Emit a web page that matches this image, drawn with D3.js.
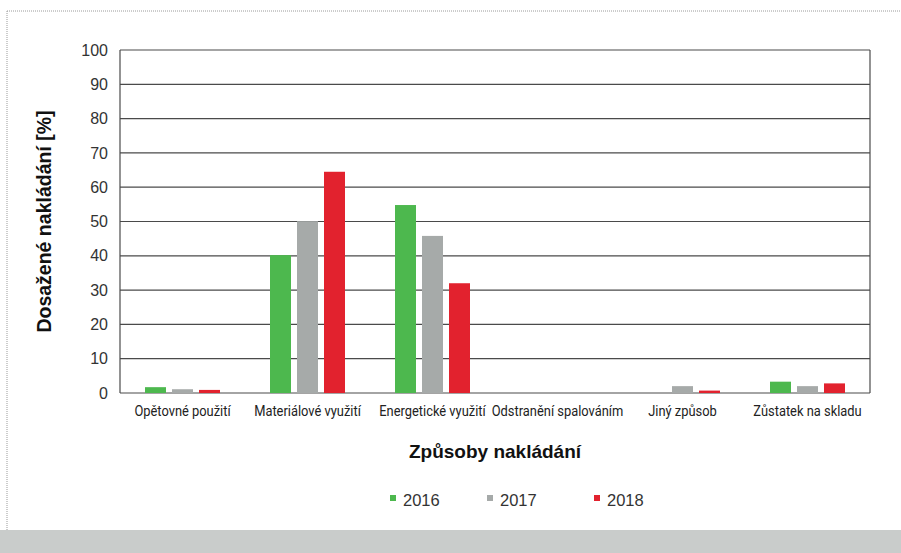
<!DOCTYPE html>
<html>
<head>
<meta charset="utf-8">
<script src="https://cdn.jsdelivr.net/npm/d3@7"></script>
<style>
  body { margin: 0; background: #fff; }
  svg { display: block; }
</style>
</head>
<body>
<div id="chart"></div>
<script>
var categories = ["Opětovné použití", "Materiálové využití", "Energetické využití", "Odstranění spalováním", "Jiný způsob", "Zůstatek na skladu"];
var years = ["2016", "2017", "2018"];
var values2016 = [1.7, 40.2, 54.8, 0, 0, 3.3];
var values2017 = [1.1, 50.1, 45.8, 0, 2.0, 2.0];
var values2018 = [0.9, 64.5, 32.0, 0, 0.7, 2.8];
var yTicks = [0, 10, 20, 30, 40, 50, 60, 70, 80, 90, 100];
var colors = ["#4db84e", "#a6aaa9", "#e2222e"];

var W = 901, H = 553;
var margin = {top: 50, right: 31, bottom: 160, left: 120};
var width = W - margin.left - margin.right;
var height = H - margin.top - margin.bottom;

var series = [values2016, values2017, values2018];

var svg = d3.select("#chart").append("svg")
    .attr("width", W)
    .attr("height", H);

// page decoration: dotted frame and grey band
svg.append("rect")
    .attr("x", 0).attr("y", 530).attr("width", W).attr("height", H - 530)
    .attr("fill", "#c9cccb");
svg.append("line")
    .attr("x1", 7).attr("x2", W).attr("y1", 11).attr("y2", 11)
    .attr("stroke", "#9a9a9a").attr("stroke-dasharray", "1,1");
svg.append("line")
    .attr("x1", 7).attr("x2", 7).attr("y1", 11).attr("y2", 530)
    .attr("stroke", "#9a9a9a").attr("stroke-dasharray", "1,1");

var g = svg.append("g")
    .attr("transform", "translate(" + margin.left + "," + margin.top + ")");

var x0 = d3.scaleBand().domain(categories).range([0, width]);
var yScale = d3.scaleLinear().domain([0, 100]).range([height, 0]);

var barW = 21, gap = 6;
var x1 = function(i) { return x0.bandwidth() / 2 - (3 * barW + 2 * gap) / 2 + i * (barW + gap); };

// gridlines
g.selectAll(".grid")
    .data(yTicks)
    .enter().append("line")
    .attr("x1", 0).attr("x2", width)
    .attr("y1", function(d) { return yScale(d); })
    .attr("y2", function(d) { return yScale(d); })
    .attr("stroke", "#4a4a4a")
    .attr("stroke-width", 1.2);

// frame sides
g.append("line").attr("x1", 0).attr("x2", 0).attr("y1", 0).attr("y2", height)
    .attr("stroke", "#4a4a4a").attr("stroke-width", 1.2);
g.append("line").attr("x1", width).attr("x2", width).attr("y1", 0).attr("y2", height)
    .attr("stroke", "#4a4a4a").attr("stroke-width", 1.2);

// y tick labels
var yAxis = d3.axisLeft(yScale).tickValues(yTicks).tickSize(0).tickPadding(12);
var gY = g.append("g").call(yAxis);
gY.select(".domain").remove();
gY.selectAll("text")
    .attr("font-family", "'Liberation Sans', Arial, sans-serif")
    .attr("font-size", 16)
    .attr("fill", "#333");

// x category labels (condensed look)
var xAxis = d3.axisBottom(x0).tickSize(0).tickPadding(12);
var gX = g.append("g").attr("transform", "translate(0," + height + ")").call(xAxis);
gX.select(".domain").remove();
gX.selectAll("text")
    .attr("font-family", "Roboto, 'Liberation Sans', sans-serif")
    .attr("font-size", 15)
    .attr("transform", "scale(0.86,1)")
    .attr("fill", "#222");

// bars
series.forEach(function(vals, si) {
    g.selectAll(".bar" + si)
        .data(vals)
        .enter().append("rect")
        .attr("class", "bar" + si)
        .attr("x", function(d, i) { return x0(categories[i]) + x1(si); })
        .attr("y", function(d) { return yScale(d); })
        .attr("width", barW)
        .attr("height", function(d) { return height - yScale(d); })
        .attr("fill", colors[si]);
});

// axis titles
svg.append("text")
    .attr("transform", "translate(51," + (margin.top + height / 2) + ") rotate(-90)")
    .attr("text-anchor", "middle")
    .attr("font-family", "'Liberation Sans', Arial, sans-serif")
    .attr("font-weight", "bold")
    .attr("font-size", 19.5)
    .attr("fill", "#111")
    .text("Dosažené nakládání [%]");

svg.append("text")
    .attr("x", margin.left + width / 2)
    .attr("y", 458)
    .attr("text-anchor", "middle")
    .attr("font-family", "'Liberation Sans', Arial, sans-serif")
    .attr("font-weight", "bold")
    .attr("font-size", 19)
    .attr("fill", "#111")
    .text("Způsoby nakládání");

// legend
var legendX = [390, 487, 594];
var legend = svg.selectAll(".legend")
    .data(years)
    .enter().append("g")
    .attr("transform", function(d, i) { return "translate(" + legendX[i] + ",500)"; });
legend.append("rect")
    .attr("x", 0).attr("y", -5).attr("width", 6).attr("height", 6)
    .attr("fill", function(d, i) { return colors[i]; });
legend.append("text")
    .attr("x", 13).attr("y", 6)
    .attr("font-family", "'Liberation Sans', Arial, sans-serif")
    .attr("font-size", 16.5)
    .attr("fill", "#333")
    .text(function(d) { return d; });
</script>
</body>
</html>
